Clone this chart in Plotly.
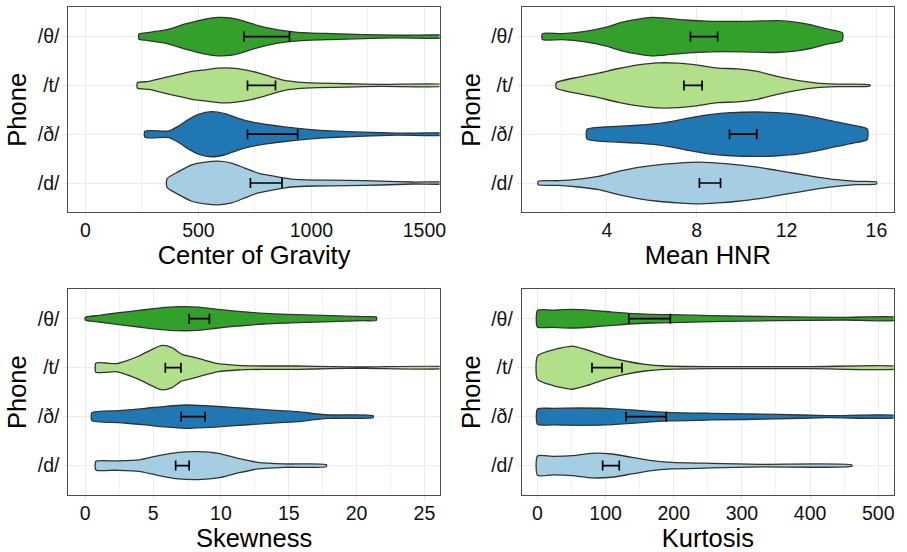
import plotly.graph_objects as go

# ---------------- data ----------------
phones = ["/d/", "/ð/", "/t/", "/θ/"]          # bottom -> top
fill_colors = ["#A6CEE3", "#1F78B4", "#B2DF8A", "#33A02C"]

# Density outlines (value positions, density in arbitrary units)
cog_vals = {
    "/θ/": [237, 266, 354, 442, 530, 588, 647, 705, 764, 852, 939, 1086, 1232, 1379, 1620],
    "/t/": [230, 281, 354, 413, 471, 530, 588, 647, 705, 764, 822, 881, 939, 1027, 1159, 1305, 1620],
    "/ð/": [263, 369, 413, 457, 500, 559, 618, 676, 735, 793, 881, 998, 1086, 1232, 1379, 1620],
    "/d/": [361, 413, 471, 530, 588, 647, 705, 764, 822, 881, 910, 1013, 1159, 1305, 1452, 1620],
}
cog_dens = {
    "/θ/": [8, 11, 20, 38, 53, 58, 56, 46, 33, 20, 13, 9, 6, 4, 3],
    "/t/": [8, 12, 24, 33, 42, 47, 52, 52, 47, 38, 26, 15, 10, 7, 5, 3, 2],
    "/ð/": [9, 10, 25, 45, 60, 68, 62, 48, 37, 30, 22, 14, 10, 6, 3, 2],
    "/d/": [13, 35, 55, 63, 66, 60, 45, 30, 22, 15, 12, 9, 8, 6, 3, 2],
}
cog_lo = [730, 717, 717, 701]   # d, ð, t, θ
cog_hi = [870, 939, 841, 903]

hnr_vals = {
    "/θ/": [1.13, 2.01, 3.04, 3.93, 4.66, 5.40, 5.99, 6.58, 7.46, 8.64, 10.11, 11.58, 12.47, 13.05, 13.79, 14.48],
    "/t/": [1.75, 2.75, 3.63, 4.52, 5.40, 6.28, 7.17, 8.05, 8.93, 9.82, 10.70, 11.58, 12.47, 13.35, 14.23, 15.70],
    "/ð/": [3.12, 4.22, 5.40, 6.58, 7.75, 8.64, 9.52, 10.70, 11.58, 12.47, 13.35, 14.23, 15.12, 15.59],
    "/d/": [0.94, 1.87, 2.75, 3.63, 4.52, 5.40, 6.28, 7.17, 8.05, 8.93, 9.82, 10.70, 11.58, 12.47, 13.35, 14.23, 15.12, 16.0],
}
hnr_dens = {
    "/θ/": [9, 9, 16, 28, 43, 53, 58, 56, 50, 46, 46, 48, 43, 36, 23, 12],
    "/t/": [8, 25, 37, 51, 62, 68, 67, 61, 52, 50, 42, 27, 15, 7, 4, 2],
    "/ð/": [15, 23, 27, 35, 50, 60, 65, 67, 65, 60, 50, 37, 25, 16],
    "/d/": [5, 7, 12, 20, 35, 47, 55, 60, 63, 60, 55, 48, 38, 28, 18, 10, 5, 3],
}
hnr_lo = [8.12, 9.46, 7.43, 7.72]
hnr_hi = [9.06, 10.67, 8.24, 8.93]

skew_vals = {
    "/θ/": [0.0, 1.02, 2.49, 3.95, 5.41, 6.88, 8.34, 9.80, 11.27, 13.22, 15.66, 18.10, 20.54, 21.46],
    "/t/": [0.78, 1.51, 2.24, 2.98, 3.95, 4.93, 5.66, 6.39, 7.12, 7.85, 8.83, 9.80, 11.27, 13.22, 15.66, 18.10, 20.54, 26.6],
    "/ð/": [0.49, 2.49, 4.44, 5.90, 7.37, 8.83, 10.78, 13.22, 15.66, 17.12, 18.10, 21.22],
    "/d/": [0.78, 2.24, 3.95, 5.41, 6.88, 8.34, 9.80, 11.27, 12.73, 14.68, 17.78],
}
skew_dens = {
    "/θ/": [4, 10, 18, 25, 32, 36, 35, 28, 22, 16, 12, 9, 6, 5],
    "/t/": [14, 14, 12, 20, 35, 55, 67, 60, 40, 33, 22, 12, 7, 5, 5, 3, 2, 2],
    "/ð/": [12, 18, 25, 31, 35, 33, 28, 21, 15, 8, 5, 3],
    "/d/": [13, 14, 17, 30, 40, 42, 37, 22, 10, 5, 3],
}
skew_lo = [6.66, 7.07, 5.90, 7.66]
skew_hi = [7.66, 8.83, 7.05, 9.15]

kurt_vals = {
    "/θ/": [0, 21.8, 51, 80, 109, 133.5, 167.5, 196.6, 254.9, 352, 449, 530],
    "/t/": [0, 21.8, 51, 70.4, 99.5, 128.6, 157.8, 186.9, 254.9, 400.5, 530],
    "/ð/": [0, 21.8, 60.7, 99.5, 138.3, 189.3, 254.9, 352, 424.8, 530],
    "/d/": [0, 21.8, 51, 80, 109, 138.3, 167.5, 196.6, 254.9, 327.7, 461.2],
}
kurt_dens = {
    "/θ/": [25, 26, 28, 25, 20, 16, 13, 12, 9, 6, 4, 4],
    "/t/": [35, 53, 65, 55, 35, 20, 10, 5, 3, 3, 3],
    "/ð/": [23, 25, 26, 25, 20, 13, 10, 7, 3, 3],
    "/d/": [29, 28, 30, 37, 35, 25, 15, 10, 7, 4, 2],
}
kurt_lo = [95.6, 130, 80, 134]
kurt_hi = [120, 189, 124, 195]

x_titles = ["Center of Gravity", "Mean HNR", "Skewness", "Kurtosis"]
x_ranges = [[-75, 1567], [0.22, 16.77], [-1.24, 26.12], [-22.8, 522.8]]
x_dticks = [500, 4, 5, 100]
x_tick0 = [0, 0, 0, 0]

panels = [
    (cog_vals, cog_dens, cog_lo, cog_hi),
    (hnr_vals, hnr_dens, hnr_lo, hnr_hi),
    (skew_vals, skew_dens, skew_lo, skew_hi),
    (kurt_vals, kurt_dens, kurt_lo, kurt_hi),
]

# ---------------- figure ----------------
W, H = 907, 552
DENS_SCALE = 1 / 147.3   # density units -> category units
FONT = "Liberation Sans, Arial, Helvetica, sans-serif"

domains_x = [[69 / W, 443 / W], [526 / W, 900.7 / W], [69 / W, 443 / W], [526 / W, 900.7 / W]]
domains_y = [[1 - 212.3 / H, 1 - 7.3 / H], [1 - 212.3 / H, 1 - 7.3 / H],
             [1 - 495 / H, 1 - 289.3 / H], [1 - 495 / H, 1 - 289.3 / H]]

fig = go.Figure()

for p, (vals, dens, lo, hi) in enumerate(panels):
    xa = "x" if p == 0 else f"x{p + 1}"
    ya = "y" if p == 0 else f"y{p + 1}"
    for i, ph in enumerate(phones):
        c = i + 1
        v = vals[ph]
        d = dens[ph]
        xs = list(v) + list(v[::-1]) + [v[0]]
        ys = [c + di * DENS_SCALE for di in d] + [c - di * DENS_SCALE for di in d[::-1]] + [c + d[0] * DENS_SCALE]
        fig.add_trace(go.Scatter(
            x=xs, y=ys, xaxis=xa, yaxis=ya, mode="lines", fill="toself",
            fillcolor=fill_colors[i], line=dict(color="#333333", width=1.3, shape="spline", smoothing=0.6),
            hoverinfo="skip", showlegend=False,
        ))
    centers = [(l + h) / 2 for l, h in zip(lo, hi)]
    halfs = [(h - l) / 2 for l, h in zip(lo, hi)]
    fig.add_trace(go.Scatter(
        x=centers, y=[1, 2, 3, 4], xaxis=xa, yaxis=ya, mode="markers",
        marker=dict(size=1, color="rgba(0,0,0,0)"),
        error_x=dict(type="data", symmetric=True, array=halfs, width=5, thickness=1.7, color="black"),
        showlegend=False, hoverinfo="skip",
    ))

for p in range(4):
    xkey = "xaxis" if p == 0 else f"xaxis{p + 1}"
    ykey = "yaxis" if p == 0 else f"yaxis{p + 1}"
    anchor_x = "x" if p == 0 else f"x{p + 1}"
    anchor_y = "y" if p == 0 else f"y{p + 1}"
    fig.layout[xkey] = dict(
        domain=domains_x[p], anchor=anchor_y, range=x_ranges[p],
        tick0=x_tick0[p], dtick=x_dticks[p], ticks="outside", ticklen=4, tickcolor="#E6E6E6", tickwidth=1.2,
        ticklabelstandoff=-4,
        showgrid=True, gridcolor="#EBEBEB", gridwidth=1.3,
        minor=dict(dtick=x_dticks[p] / 2, showgrid=True, gridcolor="#F2F2F2", gridwidth=0.7),
        showline=True, linecolor="#4D4D4D", linewidth=1.3, mirror=True, zeroline=False,
        tickfont=dict(family=FONT, size=19.5, color="#111111"),
        title=dict(text=x_titles[p], font=dict(family=FONT, size=25.5, color="black"), standoff=1),
    )
    fig.layout[ykey] = dict(
        domain=domains_y[p], anchor=anchor_x, range=[0.4, 4.6],
        tickvals=[1, 2, 3, 4], ticktext=phones, ticks="outside", ticklen=4, tickcolor="#E6E6E6", tickwidth=1.2,
        showgrid=True, gridcolor="#EBEBEB", gridwidth=1.3,
        showline=True, linecolor="#4D4D4D", linewidth=1.3, mirror=True, zeroline=False,
        tickfont=dict(family=FONT, size=19.5, color="#111111"),
        title=dict(text="Phone", font=dict(family=FONT, size=25.5, color="black"), standoff=3),
    )

fig.update_layout(
    width=W, height=H, margin=dict(l=0, r=0, t=0, b=0),
    paper_bgcolor="white", plot_bgcolor="white", showlegend=False,
)

fig.write_html("out.html", config={"displayModeBar": False},
               post_script="document.body.style.margin='0';document.body.style.overflow='hidden';")
